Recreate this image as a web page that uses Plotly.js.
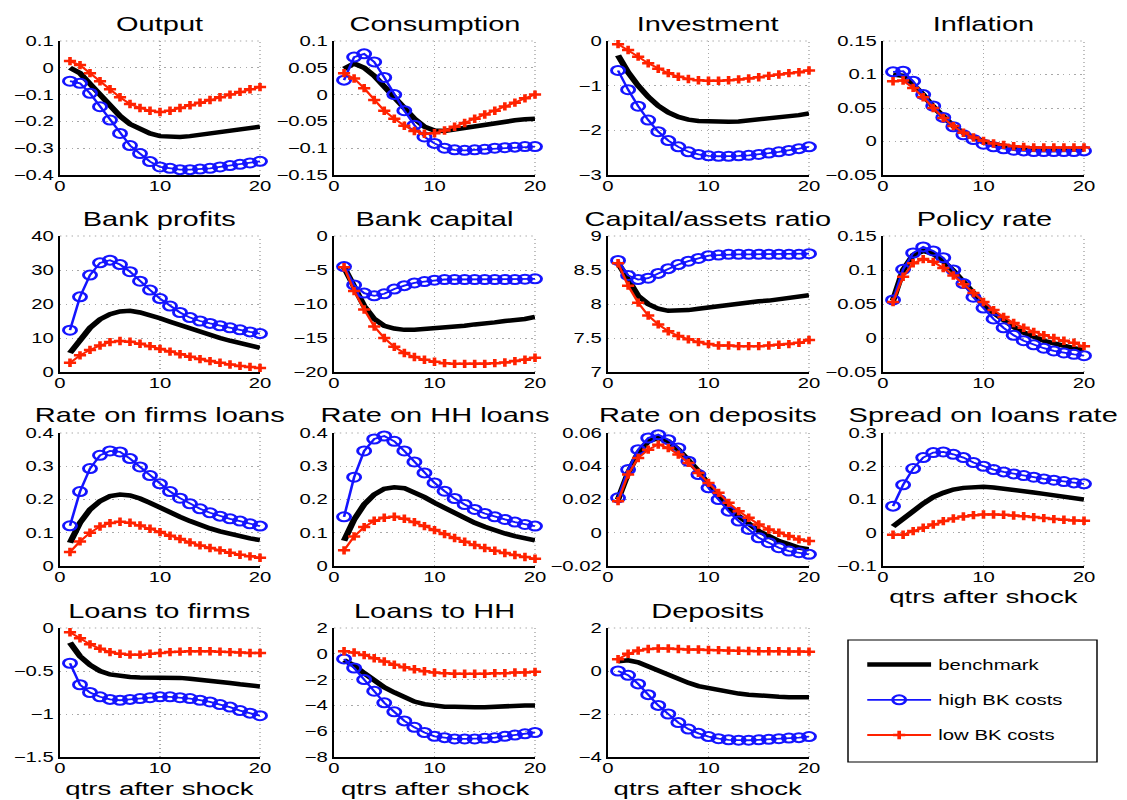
<!DOCTYPE html>
<html><head><meta charset="utf-8">
<script src="https://cdn.plot.ly/plotly-3.0.1.min.js"></script>
<style>
html,body{margin:0;padding:0;background:#fff;overflow:hidden}
#wrap{width:1127px;height:800px;overflow:hidden}
#chart{width:777px;height:800px;transform:scaleX(1.45045);transform-origin:0 0}
</style></head><body><div id="wrap"><div id="chart"></div></div>
<script>
const quarters = [1,2,3,4,5,6,7,8,9,10,11,12,13,14,15,16,17,18,19,20];
const seriesNames = ['benchmark','high BK costs','low BK costs'];
const panelTitles = ['Output','Consumption','Investment','Inflation','Bank profits','Bank capital','Capital/assets ratio','Policy rate','Rate on firms loans','Rate on HH loans','Rate on deposits','Spread on loans rate','Loans to firms','Loans to HH','Deposits'];
const xLabel = 'qtrs after shock';

const output_bench = [0.0,-0.02,-0.06,-0.1,-0.14,-0.18,-0.21,-0.23,-0.245,-0.255,-0.258,-0.258,-0.255,-0.25,-0.245,-0.24,-0.235,-0.23,-0.225,-0.22];
const output_high = [-0.05,-0.058,-0.095,-0.145,-0.195,-0.245,-0.29,-0.32,-0.35,-0.37,-0.375,-0.38,-0.38,-0.378,-0.375,-0.37,-0.365,-0.36,-0.355,-0.349];
const output_low = [0.025,0.01,-0.02,-0.05,-0.08,-0.11,-0.135,-0.15,-0.16,-0.165,-0.16,-0.15,-0.14,-0.13,-0.12,-0.11,-0.10,-0.09,-0.08,-0.072];

const cons_bench = [0.048,0.058,0.05,0.035,0.015,-0.005,-0.025,-0.045,-0.06,-0.067,-0.068,-0.065,-0.062,-0.058,-0.055,-0.052,-0.05,-0.048,-0.046,-0.045];
const cons_high = [0.027,0.07,0.076,0.061,0.032,0.0,-0.03,-0.057,-0.079,-0.091,-0.1,-0.103,-0.104,-0.103,-0.102,-0.1,-0.099,-0.098,-0.097,-0.097];
const cons_low = [0.04,0.03,0.012,-0.01,-0.03,-0.045,-0.058,-0.068,-0.073,-0.072,-0.067,-0.06,-0.053,-0.045,-0.037,-0.03,-0.022,-0.015,-0.007,0.0];

const inv_bench = [-0.32,-0.7,-1.0,-1.25,-1.45,-1.6,-1.7,-1.76,-1.79,-1.8,-1.81,-1.81,-1.8,-1.78,-1.76,-1.74,-1.72,-1.69,-1.66,-1.62];
const inv_high = [-0.66,-1.09,-1.46,-1.77,-2.03,-2.23,-2.37,-2.48,-2.54,-2.57,-2.58,-2.58,-2.57,-2.56,-2.54,-2.51,-2.48,-2.45,-2.41,-2.37];
const inv_low = [-0.07,-0.2,-0.35,-0.5,-0.62,-0.72,-0.8,-0.85,-0.88,-0.89,-0.89,-0.88,-0.86,-0.84,-0.81,-0.78,-0.75,-0.72,-0.7,-0.66];

const infl_bench = [0.1,0.098,0.085,0.07,0.052,0.036,0.023,0.013,0.006,0.0,-0.004,-0.007,-0.009,-0.01,-0.011,-0.011,-0.012,-0.012,-0.012,-0.012];
const infl_high = [0.104,0.105,0.09,0.07,0.053,0.036,0.022,0.01,0.003,-0.004,-0.008,-0.011,-0.013,-0.014,-0.015,-0.015,-0.015,-0.015,-0.015,-0.014];
const infl_low = [0.09,0.091,0.08,0.066,0.05,0.035,0.023,0.013,0.006,0.001,-0.003,-0.005,-0.007,-0.008,-0.009,-0.009,-0.009,-0.009,-0.009,-0.009];

const prof_bench = [5.6,9.5,13,15.5,17,17.8,18,17.5,16.8,15.8,14.8,13.8,12.8,11.8,10.9,10.0,9.2,8.4,7.7,7.1];
const prof_high = [12.3,22.1,28.5,32.1,32.9,31.6,29.5,26.7,24.1,21.6,19.4,17.5,16.0,15.0,14.3,13.6,13.0,12.4,11.8,11.3];
const prof_low = [2.7,4.9,6.5,7.8,8.8,9.1,8.9,8.3,7.6,6.8,6.0,5.2,4.5,3.8,3.2,2.7,2.2,1.8,1.5,1.2];

const capital_bench = [-4.6,-7.5,-10.3,-12.2,-13.2,-13.6,-13.8,-13.8,-13.7,-13.6,-13.5,-13.3,-13.2,-13.0,-12.9,-12.7,-12.5,-12.4,-12.2,-11.9];
const capital_high = [-4.5,-7.2,-8.4,-8.8,-8.5,-7.8,-7.3,-6.9,-6.7,-6.5,-6.4,-6.4,-6.4,-6.4,-6.4,-6.4,-6.4,-6.4,-6.35,-6.3];
const capital_low = [-4.6,-8.1,-10.8,-13.3,-15.0,-16.3,-17.2,-17.8,-18.2,-18.5,-18.7,-18.8,-18.8,-18.8,-18.8,-18.7,-18.6,-18.4,-18.2,-17.9];

const ratio_bench = [8.6,8.35,8.12,8.0,7.93,7.9,7.9,7.91,7.93,7.95,7.97,7.99,8.01,8.02,8.04,8.05,8.07,8.08,8.1,8.13];
const ratio_high = [8.64,8.42,8.36,8.38,8.45,8.52,8.58,8.63,8.67,8.71,8.72,8.73,8.73,8.73,8.73,8.73,8.73,8.73,8.73,8.74];
const ratio_low = [8.6,8.27,8.02,7.83,7.7,7.6,7.53,7.48,7.44,7.41,7.39,7.39,7.38,7.38,7.38,7.39,7.4,7.41,7.43,7.47];

const policy_bench = [0.055,0.1,0.122,0.128,0.124,0.113,0.099,0.082,0.066,0.05,0.037,0.026,0.016,0.008,0.002,-0.004,-0.008,-0.012,-0.015,-0.018];
const policy_high = [0.056,0.101,0.125,0.134,0.128,0.118,0.1,0.08,0.06,0.044,0.028,0.015,0.004,-0.004,-0.01,-0.015,-0.019,-0.022,-0.024,-0.026];
const policy_low = [0.053,0.09,0.11,0.116,0.112,0.103,0.092,0.079,0.066,0.053,0.041,0.031,0.022,0.015,0.009,0.004,0.0,-0.004,-0.007,-0.012];

const firmrate_bench = [0.07,0.13,0.17,0.195,0.21,0.215,0.212,0.203,0.19,0.175,0.162,0.148,0.135,0.123,0.113,0.104,0.096,0.089,0.083,0.078];
const firmrate_high = [0.121,0.224,0.293,0.333,0.346,0.343,0.323,0.298,0.272,0.247,0.224,0.204,0.187,0.172,0.16,0.15,0.142,0.135,0.127,0.12];
const firmrate_low = [0.042,0.074,0.1,0.119,0.129,0.133,0.13,0.122,0.112,0.102,0.091,0.081,0.071,0.062,0.054,0.047,0.04,0.034,0.029,0.025];

const hhrate_bench = [0.076,0.14,0.185,0.215,0.232,0.237,0.234,0.222,0.207,0.19,0.174,0.158,0.143,0.13,0.118,0.107,0.098,0.09,0.083,0.077];
const hhrate_high = [0.148,0.267,0.346,0.382,0.391,0.375,0.346,0.313,0.28,0.25,0.225,0.203,0.185,0.17,0.158,0.148,0.14,0.132,0.125,0.12];
const hhrate_low = [0.047,0.089,0.117,0.136,0.145,0.148,0.142,0.132,0.12,0.108,0.096,0.084,0.073,0.063,0.054,0.046,0.039,0.033,0.027,0.022];

const deprate_bench = [0.02,0.036,0.048,0.055,0.057,0.055,0.05,0.044,0.037,0.029,0.022,0.015,0.01,0.005,0.001,-0.002,-0.005,-0.007,-0.009,-0.01];
const deprate_high = [0.021,0.038,0.05,0.057,0.059,0.056,0.051,0.043,0.035,0.027,0.02,0.013,0.007,0.002,-0.003,-0.006,-0.009,-0.011,-0.012,-0.013];
const deprate_low = [0.019,0.035,0.045,0.05,0.053,0.051,0.047,0.042,0.036,0.03,0.024,0.018,0.013,0.009,0.005,0.002,0.0,-0.002,-0.004,-0.005];

const spread_bench = [0.019,0.04,0.065,0.088,0.107,0.12,0.13,0.135,0.138,0.138,0.136,0.133,0.129,0.125,0.121,0.117,0.113,0.109,0.105,0.1];
const spread_high = [0.08,0.144,0.193,0.226,0.241,0.243,0.236,0.226,0.211,0.2,0.19,0.183,0.177,0.172,0.167,0.162,0.158,0.154,0.15,0.147];
const spread_low = [-0.006,-0.006,0.005,0.015,0.025,0.035,0.043,0.049,0.053,0.055,0.055,0.054,0.052,0.05,0.047,0.044,0.041,0.039,0.037,0.036];

const loansfirms_bench = [-0.17,-0.33,-0.43,-0.5,-0.54,-0.56,-0.57,-0.575,-0.575,-0.575,-0.575,-0.58,-0.59,-0.6,-0.61,-0.625,-0.64,-0.655,-0.67,-0.68];
const loansfirms_high = [-0.41,-0.66,-0.75,-0.8,-0.83,-0.84,-0.83,-0.82,-0.81,-0.8,-0.8,-0.81,-0.82,-0.84,-0.86,-0.89,-0.92,-0.96,-0.99,-1.02];
const loansfirms_low = [-0.05,-0.12,-0.19,-0.24,-0.28,-0.3,-0.31,-0.31,-0.3,-0.29,-0.28,-0.275,-0.27,-0.27,-0.27,-0.275,-0.28,-0.285,-0.29,-0.29];

const loanshh_bench = [-0.5,-0.9,-1.5,-2.1,-2.6,-3.0,-3.4,-3.7,-3.9,-4.0,-4.1,-4.1,-4.15,-4.15,-4.15,-4.1,-4.1,-4.05,-4.0,-4.0];
const loanshh_high = [-0.4,-1.1,-2.0,-2.9,-3.8,-4.5,-5.2,-5.7,-6.1,-6.4,-6.5,-6.6,-6.6,-6.6,-6.55,-6.5,-6.4,-6.3,-6.2,-6.1];
const loanshh_low = [0.2,0.1,-0.1,-0.35,-0.6,-0.85,-1.05,-1.2,-1.35,-1.45,-1.5,-1.55,-1.55,-1.55,-1.55,-1.5,-1.5,-1.45,-1.45,-1.4];

const deposits_bench = [0.45,0.5,0.4,0.2,0.0,-0.2,-0.4,-0.55,-0.7,-0.8,-0.9,-1.0,-1.05,-1.1,-1.15,-1.2,-1.2,-1.22,-1.22,-1.22];
const deposits_high = [0.0,-0.2,-0.6,-1.1,-1.6,-2.0,-2.4,-2.7,-2.9,-3.05,-3.15,-3.2,-3.22,-3.22,-3.2,-3.18,-3.15,-3.12,-3.1,-3.05];
const deposits_low = [0.55,0.8,0.95,1.02,1.05,1.05,1.02,1.0,1.0,0.98,0.97,0.95,0.94,0.93,0.92,0.92,0.92,0.91,0.91,0.9];

const panelData = [
  [output_bench, output_high, output_low],
  [cons_bench, cons_high, cons_low],
  [inv_bench, inv_high, inv_low],
  [infl_bench, infl_high, infl_low],
  [prof_bench, prof_high, prof_low],
  [capital_bench, capital_high, capital_low],
  [ratio_bench, ratio_high, ratio_low],
  [policy_bench, policy_high, policy_low],
  [firmrate_bench, firmrate_high, firmrate_low],
  [hhrate_bench, hhrate_high, hhrate_low],
  [deprate_bench, deprate_high, deprate_low],
  [spread_bench, spread_high, spread_low],
  [loansfirms_bench, loansfirms_high, loansfirms_low],
  [loanshh_bench, loanshh_high, loanshh_low],
  [deposits_bench, deposits_high, deposits_low]
];
const yRanges = [[-0.4,0.1],[-0.15,0.1],[-3,0],[-0.05,0.15],[0,40],[-20,0],[7,9],[-0.05,0.15],[0,0.4],[0,0.4],[-0.02,0.06],[-0.1,0.3],[-1.5,0],[-8,2],[-4,2]];
const yDticks = [0.1,0.05,1,0.05,10,5,0.5,0.05,0.1,0.1,0.02,0.1,0.5,2,2];

// layout geometry (pixels of the 1127x800 picture)
const W = 1127, H = 800;
const colPx = [[60,260],[334,535],[608,809],[883,1084]];
const rowPx = [[41,175],[236,372],[433,566],[628,757]];
const titleY = [24,219,415,611];
const FONT = 'Liberation Sans, Arial, Helvetica, sans-serif';
const GRID = '#a8a8a8';
const GRIDDASH = '1px,3px';

const styles = [
  {mode:'lines', line:{color:'#000000', width:4.5}},
  {mode:'lines+markers', line:{color:'#1414ff', width:1.8}, marker:{symbol:'circle-open', size:9, color:'#1414ff', line:{width:2, color:'#1414ff'}}},
  {mode:'lines+markers', line:{color:'#ff2200', width:1.8}, marker:{symbol:'cross-thin-open', size:6, color:'#ff2200', line:{width:2.5, color:'#ff2200'}}}
];

const traces = [];
const layout = {
  width: 777, height: H,
  margin:{l:0,r:0,t:0,b:0},
  paper_bgcolor:'#ffffff', plot_bgcolor:'#ffffff',
  font:{family:FONT, size:14, color:'#000'},
  showlegend:true,
  legend:{x:860/W, y:1-649/H, xanchor:'left', yanchor:'top', bgcolor:'rgba(0,0,0,0)', borderwidth:0,
          font:{family:FONT, size:14, color:'#000'}, tracegroupgap:14, itemwidth:44},
  annotations:[], shapes:[]
};

panelData.forEach((sets, i) => {
  const r = Math.floor(i/4), c = i%4;
  const ax = i === 0 ? '' : String(i+1);
  sets.forEach((ys, k) => {
    traces.push(Object.assign({
      type:'scatter', x:quarters, y:ys, name:seriesNames[k],
      xaxis:'x'+ax, yaxis:'y'+ax, showlegend: i === 0, legendgroup:seriesNames[k],
      cliponaxis:false, hoverinfo:'skip'
    }, JSON.parse(JSON.stringify(styles[k]))));
  });
  const common = {showline:true, linecolor:'#000', linewidth:1.5, mirror:false,
    showgrid:true, gridcolor:GRID, gridwidth:1, griddash:GRIDDASH, zeroline:false,
    ticks:'', tickfont:{family:FONT, size:14, color:'#000'}, fixedrange:true, layer:'below traces'};
  layout['xaxis'+ax] = Object.assign({}, common, {
    domain:[colPx[c][0]/W, colPx[c][1]/W], range:[0,20], tick0:0, dtick:10, anchor:'y'+ax, ticklabelstandoff:-2
  });
  layout['yaxis'+ax] = Object.assign({}, common, {
    domain:[1-rowPx[r][1]/H, 1-rowPx[r][0]/H], range:yRanges[i], tick0:0, dtick:yDticks[i], anchor:'x'+ax
  });
  // dotted top and right frame edges, as in the original's grid box
  const xa = 'x'+ax+' domain', ya = 'y'+ax+' domain';
  layout.shapes.push({type:'line', xref:xa, yref:ya, x0:0, x1:1, y0:1, y1:1, layer:'below', line:{color:GRID, width:1, dash:GRIDDASH}});
  layout.shapes.push({type:'line', xref:xa, yref:ya, x0:1, x1:1, y0:0, y1:1, layer:'below', line:{color:GRID, width:1, dash:GRIDDASH}});
  layout.annotations.push({
    text:panelTitles[i], xref:'paper', yref:'paper',
    x:(colPx[c][0]+colPx[c][1])/2/W, y:1-titleY[r]/H, xanchor:'center', yanchor:'middle',
    showarrow:false, font:{family:FONT, size:20, color:'#000'}
  });
});

// x-axis labels under the bottom panel of each column
[[3,596,'middle'],[0,800,'bottom'],[1,800,'bottom'],[2,800,'bottom']].forEach(([c,yp,anc]) => {
  layout.annotations.push({
    text:xLabel, xref:'paper', yref:'paper',
    x:(colPx[c][0]+colPx[c][1])/2/W, y:1-yp/H, xanchor:'center', yanchor:anc, borderpad:0,
    showarrow:false, font:{family:FONT, size:19, color:'#000'}
  });
});

// legend frame
layout.shapes.push({type:'rect', xref:'paper', yref:'paper', x0:848/W, x1:1097/W, y0:1-762/H, y1:1-640/H,
  line:{color:'#000', width:1}, fillcolor:'rgba(0,0,0,0)'});

Plotly.newPlot('chart', traces, layout, {staticPlot:true, displayModeBar:false});
</script></body></html>
